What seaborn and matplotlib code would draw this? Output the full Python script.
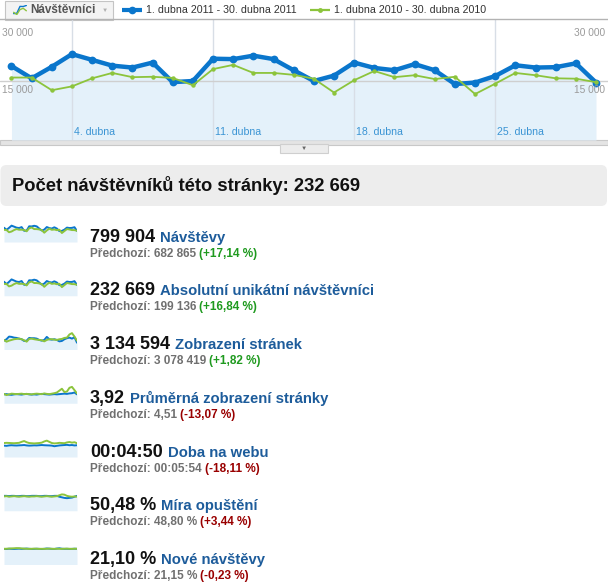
import numpy as np
import pandas as pd
import matplotlib.pyplot as plt
import seaborn as sns
from matplotlib.patches import Rectangle, FancyBboxPatch
from matplotlib.transforms import offset_copy

W, H = 608, 582

# main chart data (daily visitors, April)
days = list(range(1, 31))
visitors_2011 = [18900, 15700, 18700, 22000, 20500, 19000, 18500, 19800, 14700, 15000,
                 20800, 20700, 21600, 20700, 17800, 15000, 16400, 19800, 18400, 17800,
                 19400, 17800, 14200, 14600, 16300, 19100, 18500, 18600, 19600, 14600]
visitors_2010 = [15900, 15900, 12600, 13600, 15700, 17100, 16000, 16100, 15800, 13900,
                 18100, 19200, 17100, 17100, 16600, 15600, 12000, 15200, 17600, 16000,
                 16500, 15500, 16100, 11600, 14300, 17100, 16500, 15700, 15600, 14700]
tick_days = [4, 11, 18, 25]
tick_labels = ["4. dubna", "11. dubna", "18. dubna", "25. dubna"]
y_ticks = [15000, 30000]
y_tick_labels = ["15 000", "30 000"]
metric_tab = "Návštěvníci"
range_2011 = "1. dubna 2011 - 30. dubna 2011"
range_2010 = "1. dubna 2010 - 30. dubna 2010"

summary_title = "Počet návštěvníků této stránky: 232 669"
metric_names = ["Návštěvy", "Absolutní unikátní návštěvníci", "Zobrazení stránek",
                "Průměrná zobrazení stránky", "Doba na webu", "Míra opuštění", "Nové návštěvy"]
current_values = ["799 904", "232 669", "3 134 594", "3,92", "00:04:50", "50,48 %", "21,10 %"]
previous_values = ["682 865", "199 136", "3 078 419", "4,51", "00:05:54", "48,80 %", "21,15 %"]
changes = ["+17,14 %", "+16,84 %", "+1,82 %", "-13,07 %", "-18,11 %", "+3,44 %", "-0,23 %"]
change_good = [True, True, True, False, False, False, False]

# sparkline series
visits_2011 = [27.5, 23.5, 27.2, 31.5, 29.6, 27.6, 26.9, 28.7, 21.6, 22.0, 30.2, 30.0, 31.2, 30.1, 25.9,
               22.1, 23.9, 28.8, 26.8, 25.9, 28.3, 25.9, 20.9, 21.4, 23.8, 27.7, 26.9, 27.2, 28.5, 21.3]
visits_2010 = [23.4, 23.2, 18.8, 20.2, 23.0, 24.9, 23.6, 23.7, 23.1, 20.6, 26.4, 27.9, 24.9, 24.8, 24.2,
               22.9, 17.9, 22.3, 25.7, 23.5, 24.1, 22.8, 23.6, 17.3, 21.1, 24.9, 24.1, 23.0, 22.9, 21.6]
pageviews_2011 = [87, 101, 127, 124, 117, 114, 107, 101, 84, 87, 114, 111, 111, 107, 94,
                  87, 94, 124, 101, 97, 101, 94, 80, 84, 101, 111, 117, 107, 121, 67]
pageviews_2010 = [94, 77, 87, 94, 101, 104, 107, 101, 91, 77, 104, 107, 101, 97, 94,
                  91, 80, 94, 101, 101, 97, 94, 101, 104, 114, 117, 148, 161, 127, 87]
pages_2011 = [3.8, 3.9, 3.7, 3.6, 3.8, 3.9, 3.8, 3.7, 3.9, 4.0, 3.8, 3.7, 3.8, 3.7, 3.9,
              4.0, 3.9, 3.8, 3.7, 3.8, 3.9, 3.8, 3.9, 4.0, 4.1, 4.0, 4.2, 4.3, 4.6, 3.8]
pages_2010 = [4.0, 3.5, 3.8, 4.1, 4.0, 3.9, 4.0, 4.1, 3.9, 4.0, 3.9, 3.8, 4.0, 4.1, 4.0,
              3.9, 4.2, 4.0, 3.9, 4.1, 4.3, 4.6, 5.4, 6.2, 4.8, 5.0, 6.6, 7.0, 5.6, 4.2]
duration_2011 = [285, 280, 290, 295, 290, 288, 292, 295, 300, 290, 285, 288, 292, 290, 295,
                 300, 295, 292, 290, 285, 270, 280, 290, 295, 300, 305, 295, 300, 290, 295]
duration_2010 = [350, 355, 352, 348, 345, 350, 355, 380, 400, 370, 350, 345, 340, 345, 350,
                 360, 390, 410, 380, 350, 340, 345, 355, 350, 345, 365, 375, 360, 370, 345]
bounce_2011 = [51, 51, 50, 51, 51, 50, 50, 51, 51, 50, 50, 51, 51, 51, 50,
               50, 51, 51, 50, 50, 51, 51, 48, 46, 44, 43, 44, 45, 48, 51]
bounce_2010 = [49, 50, 48, 49, 50, 49, 48, 49, 50, 49, 48, 49, 49, 50, 49,
               48, 49, 50, 49, 48, 49, 50, 53, 56, 55, 51, 49, 48, 49, 48]
newvisits_2011 = [21.0, 20.8, 21.2, 21.0, 20.9, 21.1, 21.3, 21.0, 21.2, 21.4, 21.1, 20.9, 21.0, 21.2, 21.0,
                  20.8, 21.1, 21.5, 21.3, 21.0, 20.9, 21.4, 21.8, 21.2, 21.0, 21.1, 20.9, 21.0, 21.2, 21.1]
newvisits_2010 = [21.0, 21.2, 21.4, 21.6, 21.8, 22.0, 21.9, 21.6, 21.3, 21.2, 21.0, 21.1, 21.3, 21.2, 21.0,
                  21.1, 21.0, 21.2, 21.3, 21.1, 21.0, 21.2, 21.1, 21.0, 21.2, 21.3, 21.1, 21.0, 21.2, 21.1]

spark_2011 = [visits_2011, visitors_2011, pageviews_2011, pages_2011, duration_2011, bounce_2011, newvisits_2011]
spark_2010 = [visits_2010, visitors_2010, pageviews_2010, pages_2010, duration_2010, bounce_2010, newvisits_2010]

BLUE = "#0a76cc"
GREEN = "#8cc43c"
FILL = "#e4f1fa"
NAME_BLUE = "#1d5c9b"

sns.set_style("white")
plt.rcParams["font.family"] = ["Liberation Sans", "DejaVu Sans"]

fig = plt.figure(figsize=(W / 100, H / 100), dpi=100)


def box(l, t, w, h):
    return [l / W, 1 - (t + h) / H, w / W, h / H]


# background layer in pixel coordinates
bg = fig.add_axes([0, 0, 1, 1])
bg.set_xlim(0, W)
bg.set_ylim(H, 0)
bg.axis("off")

# tab + legend
bg.add_patch(Rectangle((5, 1), 108, 18.5, fc="#f3f3f3", ec="#c4c4c4", lw=0.8))
bg.text(30, 12.7, metric_tab, fontsize=8.5, fontweight="bold", color="#555555", va="baseline")
bg.text(105, 10, "▼", fontsize=4.5, color="#b0b0b0", ha="center", va="center")
bg.plot([122, 142], [9.5, 9.5], color=BLUE, lw=3, solid_capstyle="butt")
bg.plot([132], [9.5], "o", color=BLUE, ms=5.5, mew=0)
bg.text(146, 13.3, range_2011, fontsize=7.7, color="#333333", va="baseline")
bg.plot([310, 330], [9.5, 9.5], color=GREEN, lw=1.6, solid_capstyle="butt")
bg.plot([320], [9.5], "o", color=GREEN, ms=3.5, mew=0)
bg.text(334, 13.3, range_2010, fontsize=7.7, color="#333333", va="baseline")

# tab icon (small sparkline)
ic = fig.add_axes(box(13, 5, 14, 10))
sns.lineplot(x=days[8:13], y=visitors_2011[8:13], color=BLUE, lw=1, ax=ic, legend=False)
sns.lineplot(x=days[8:13], y=visitors_2010[8:13], color=GREEN, lw=1, ax=ic, legend=False)
ic.axis("off")

# bottom bar of the chart
bg.add_patch(Rectangle((0, 140), W, 4.5, fc="#e4e4e4", ec="#c8c8c8", lw=0.8))
bg.add_patch(Rectangle((280, 144), 48, 8.5, fc="#ececec", ec="#cfcfcf", lw=0.8))
bg.text(304, 148.3, "▼", fontsize=4.5, color="#666666", ha="center", va="center")

# main chart
ax = fig.add_axes(box(0, 19, W, 121))
ax.set_facecolor("none")
ax.fill_between(days, visitors_2011, -364, color=FILL, lw=0, zorder=1)
for d in tick_days:
    ax.axvline(d, color="#d8dee6", lw=1, zorder=2)
ax.axhline(15000, color="#cfcfcf", lw=1, zorder=2)
sns.lineplot(x=days, y=visitors_2011, color=BLUE, lw=3.2, marker="o", markersize=5.6,
             markeredgewidth=0, ax=ax, zorder=3, legend=False)
sns.lineplot(x=days, y=visitors_2010, color=GREEN, lw=1.3, marker="o", markersize=3.2,
             markeredgewidth=0, ax=ax, zorder=4, legend=False)
ax.set_xlim(0.43, 30.595)
ax.set_ylim(-364, 31146)
for s in ["left", "right", "bottom"]:
    ax.spines[s].set_visible(False)
ax.spines["top"].set_color("#b3b3b3")
ax.spines["top"].set_linewidth(1)
ax.set_xticks([])
ax.set_yticks([])
ax.set_xlabel("")
ax.set_ylabel("")

lab_tr = offset_copy(ax.get_yaxis_transform(), fig=fig, y=-12.3, units="dots")
for v, s in zip(y_ticks, y_tick_labels):
    ax.text(2 / W, v, s, transform=lab_tr, ha="left", va="baseline", fontsize=7.3, color="#9a9a9a")
    ax.text(1 - 3 / W, v, s, transform=lab_tr, ha="right", va="baseline", fontsize=7.3, color="#9a9a9a")
x_tr = offset_copy(ax.get_xaxis_transform(), fig=fig, x=2, units="dots")
for d, s in zip(tick_days, tick_labels):
    ax.text(d, 5 / 121, s, transform=x_tr, ha="left", va="baseline", fontsize=7.6, color="#3a94d4")

# summary header
bg.add_patch(FancyBboxPatch((0.5, 165), 606.5, 41, boxstyle="round,pad=0,rounding_size=6",
                            fc="#ededed", ec="none"))
bg.text(12, 191, summary_title, fontsize=13.2, fontweight="bold", color="#111111", va="baseline")

# metric rows
renderer = fig.canvas.get_renderer()
for i in range(len(metric_names)):
    base = 241.7 + 53.75 * i
    t = bg.text(90, base, current_values[i], fontsize=13, fontweight="bold", color="#111111", va="baseline")
    w = t.get_window_extent(renderer).width
    bg.text(90 + w + 5, base, metric_names[i], fontsize=10.7, fontweight="bold", color=NAME_BLUE, va="baseline")
    p = bg.text(90, base + 15, "Předchozí: " + previous_values[i], fontsize=8.5, fontweight="bold",
                color="#707070", va="baseline")
    w2 = p.get_window_extent(renderer).width
    bg.text(90 + w2 + 3, base + 15, "(" + changes[i] + ")", fontsize=8.5, fontweight="bold",
            color="#1f9a1f" if change_good[i] else "#990000", va="baseline")

    sb = 242 + 53.75 * i
    sp = fig.add_axes(box(4, sb - 18, 73, 18))
    sp.fill_between(days, spark_2011[i], 0, color=FILL, lw=0)
    sns.lineplot(x=days, y=spark_2011[i], color=BLUE, lw=1.4, ax=sp, legend=False)
    sns.lineplot(x=days, y=spark_2010[i], color=GREEN, lw=1.4, ax=sp, legend=False)
    sp.set_xlim(1, 30)
    sp.set_ylim(0, max(max(spark_2011[i]), max(spark_2010[i])) * 1.1)
    sp.axis("off")

fig.savefig("out.png", dpi=100)
